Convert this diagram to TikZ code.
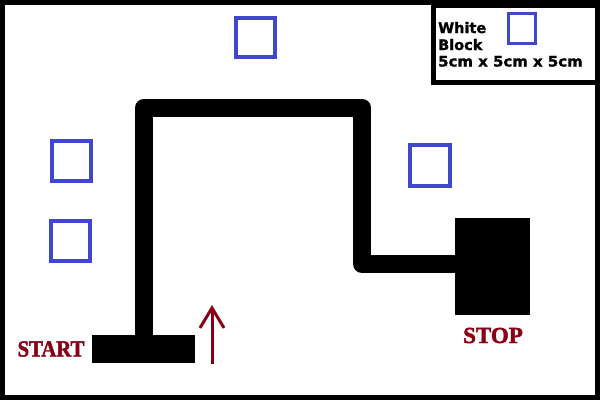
\documentclass[tikz,border=0pt]{standalone}
\usepackage{fontspec}
\setmainfont{Liberation Serif}
\newfontfamily\legendfont{DejaVu Sans Bold}[FakeBold=1.5]
\newfontfamily\labelfont{Liberation Serif Bold}[FakeBold=2]
\usetikzlibrary{arrows.meta}
\definecolor{blockblue}{RGB}{63,72,204}
\definecolor{darkred}{RGB}{136,0,21}
\tikzset{
  frame/.style={draw=black, line width=5pt},
  wblock/.style={draw=blockblue, line width=4pt, fill=white},
  track/.style={draw=black, line width=18pt, line join=round},
  solidblock/.style={fill=black, draw=none, inner sep=0pt, minimum width=0pt},
  legendtext/.style={font=\legendfont\fontsize{14.5}{16}\selectfont, anchor=base west, inner sep=0pt},
  marklabel/.style={font=\labelfont\fontsize{23}{26}\selectfont, text=darkred, inner sep=0pt},
  dirarrow/.style={draw=darkred, line width=3pt, -{Straight Barb[length=20pt,width=24pt]}}
}
\begin{document}
\begin{tikzpicture}[x=1pt,y=-1pt]
\useasboundingbox (0,0) rectangle (600,400);
\fill[white] (0,0) rectangle (600,400);
% outer frame
\node[frame, minimum width=595pt, minimum height=395pt, inner sep=0pt] (border) at (300,200) {};
% legend box
\node[frame, minimum width=167pt, minimum height=77.5pt, inner sep=0pt, anchor=north west] (legend) at (430.5,2.5) {};
\node[legendtext] (lw) at (438,33) {White};
\node[legendtext] (lb) at (438,50) {Block};
\node[legendtext, xscale=1.03] (ls) at (438,66.5) {5cm x 5cm x 5cm};
\node[wblock, line width=3pt, minimum width=27pt, minimum height=30pt, inner sep=0pt] (lsq) at (522,28.5) {};
% white blocks
\node[wblock, minimum width=39pt, minimum height=39pt, inner sep=0pt] (b1) at (255.5,37.5) {};
\node[wblock, minimum width=39pt, minimum height=40pt, inner sep=0pt] (b2) at (71.5,161) {};
\node[wblock, minimum width=39pt, minimum height=40pt, inner sep=0pt] (b3) at (70.5,241) {};
\node[wblock, minimum width=40pt, minimum height=41pt, inner sep=0pt] (b4) at (430,165.5) {};
% start and stop blocks
\node[solidblock, minimum width=103pt, minimum height=28pt] (startbar) at (143.5,349) {};
\node[solidblock, minimum width=75pt, minimum height=97pt] (stopblock) at (492.5,266.5) {};
% track
\coordinate (c1) at (144,107.5);
\coordinate (c2) at (362,107.5);
\coordinate (c3) at (362,264);
\draw[track] (startbar.north -| c1) -- (c1) -- (c2) -- (c3) -- (stopblock.west |- c3);
% labels
\node[marklabel, xscale=0.9] (start) at (51,349) {START};
\node[marklabel] (stop) at (493,335.5) {STOP};
% direction arrow
\coordinate (a0) at (212,364);
\coordinate (a1) at (212,305);
\draw[dirarrow] (a0) -- (a1);
\end{tikzpicture}
\end{document}
